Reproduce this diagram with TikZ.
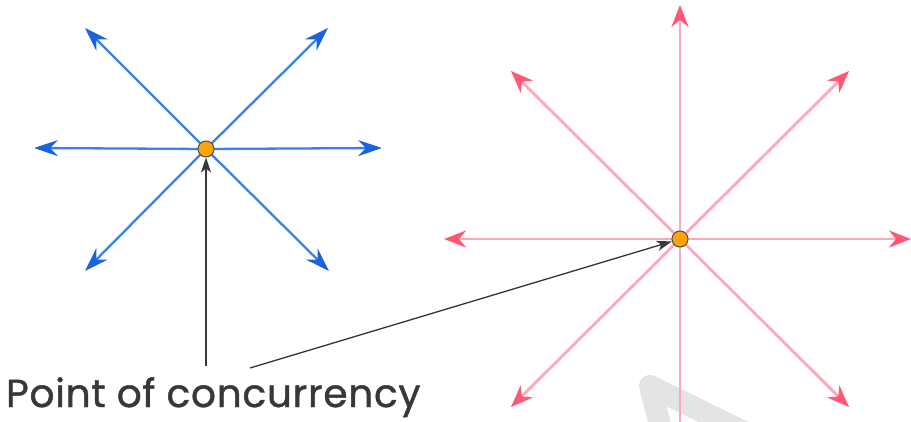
\documentclass[tikz,border=0pt]{standalone}
\usepackage{fontspec}
\setmainfont{Poppins}
\usetikzlibrary{arrows.meta}
\definecolor{bline}{HTML}{3C82E6}
\definecolor{btip}{HTML}{1A62E0}
\definecolor{rline}{HTML}{FFA8B8}
\definecolor{rtip}{HTML}{FF5775}
\definecolor{dotfill}{HTML}{FFA500}
\definecolor{txt}{HTML}{383838}
\definecolor{wm}{HTML}{E4E4E4}
\tikzset{
  bluearrow/.style={draw=bline, line width=2.3pt, -{Stealth[length=24pt,width=16pt,inset=8pt,color=btip]}},
  redarrow/.style={draw=rline, line width=2.8pt, -{Stealth[length=22pt,width=17pt,inset=7pt,color=rtip]}},
  pointer/.style={draw=txt, line width=1.3pt, -{Stealth[length=15pt,width=10pt,inset=4pt]}},
  concdot/.style={circle, fill=dotfill, draw=black!70, line width=1pt, minimum size=16pt, inner sep=0pt},
  label/.style={text=txt, font=\fontsize{39}{39}\selectfont\addfontfeatures{FakeBold=1.2,LetterSpace=2}, inner sep=0pt, anchor=base west}
}
\begin{document}
\begin{tikzpicture}[x=1pt,y=-1pt]
\useasboundingbox (0,0) rectangle (911,422);
\fill[white] (0,0) rectangle (911,422);
% watermark
\draw[wm, line width=22pt, line join=round, line cap=round] (664,440) -- (650,386) -- (760,440);
% blue star
\coordinate (bc) at (206,149);
\coordinate (b1) at (34,148);
\coordinate (b2) at (382,148);
\coordinate (b3) at (85,28);
\coordinate (b4) at (328,28);
\coordinate (b5) at (85,271);
\coordinate (b6) at (329,271);
\foreach \t in {b1,b2,b3,b4,b5,b6} \draw[bluearrow] (bc) -- (\t);
% red star
\coordinate (rc) at (680,239);
\coordinate (r1) at (680,5);
\coordinate (r2) at (911,239);
\coordinate (r3) at (444,239);
\coordinate (r4) at (511,71);
\coordinate (r5) at (849,71);
\coordinate (r6) at (511,407);
\coordinate (r7) at (849,407);
\coordinate (r8) at (680,430);
\foreach \t in {r1,r2,r3,r4,r5,r6,r7} \draw[redarrow] (rc) -- (\t);
\draw[draw=rline, line width=2.8pt] (rc) -- (r8);
% dots
\node[concdot] (p1) at (bc) {};
\node[concdot] (p2) at (rc) {};
% label
\node[label] (lab) at (6,407) {Point of concurrency};
\coordinate (s1) at (206,366);
\coordinate (s2) at (250,368);
\draw[pointer] (s1) -- (p1);
\draw[pointer] (s2) -- (p2);
\end{tikzpicture}
\end{document}
